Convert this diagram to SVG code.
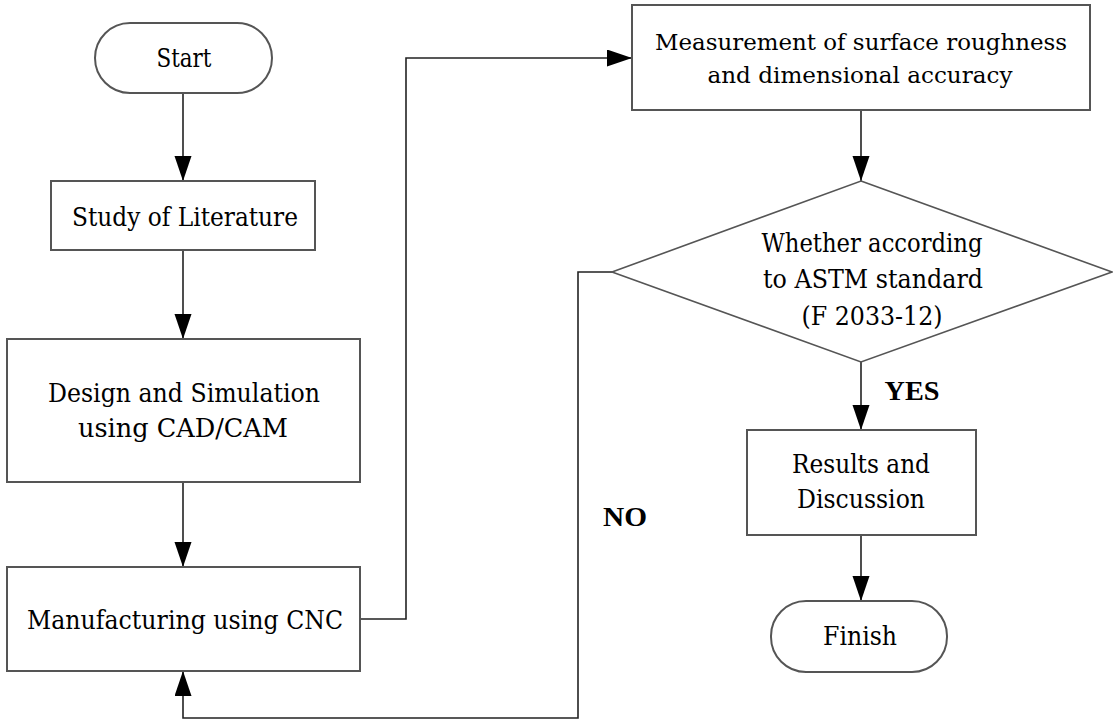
<svg xmlns="http://www.w3.org/2000/svg" width="1113" height="722" viewBox="0 0 1113 722">
<style>
.shape{fill:#fff;stroke:#555;stroke-width:2}
.conn{fill:none;stroke:#222;stroke-width:1.6}
.t{font-family:"DejaVu Serif","Liberation Serif",serif;font-size:26px;fill:#000;text-anchor:middle}
.s{font-size:23px}
.b{font-family:"Liberation Serif","DejaVu Serif",serif;font-weight:bold;font-size:27px}
</style>
<defs>
<marker id="arr" markerWidth="26" markerHeight="18" refX="25" refY="8.5" orient="auto" markerUnits="userSpaceOnUse">
<path d="M0,0 L25,8.5 L0,17 Z" fill="#000"/>
</marker>
</defs>
<rect width="1113" height="722" fill="#fff"/>
<g id="connectors">
<line class="conn" x1="183" y1="93" x2="183" y2="181" marker-end="url(#arr)"/>
<line class="conn" x1="183" y1="250" x2="183" y2="339" marker-end="url(#arr)"/>
<line class="conn" x1="183" y1="482" x2="183" y2="567" marker-end="url(#arr)"/>
<polyline class="conn" points="360,619 406,619 406,58 632,58" marker-end="url(#arr)"/>
<line class="conn" x1="861" y1="110" x2="861" y2="181" marker-end="url(#arr)"/>
<line class="conn" x1="861" y1="362" x2="861" y2="430" marker-end="url(#arr)"/>
<line class="conn" x1="861" y1="535" x2="861" y2="601" marker-end="url(#arr)"/>
<polyline class="conn" points="612,272 578,272 578,718 183,718 183,671" marker-end="url(#arr)"/>
<text class="t b" x="912" y="400" textLength="55" lengthAdjust="spacingAndGlyphs">YES</text>
<text class="t b" x="625" y="526" textLength="44" lengthAdjust="spacingAndGlyphs">NO</text>
</g>
<g id="start">
<rect class="shape" x="95" y="23" width="177" height="70" rx="35" ry="35"/>
<text class="t" x="184" y="67" textLength="55" lengthAdjust="spacingAndGlyphs">Start</text>
</g>
<g id="study">
<rect class="shape" x="51" y="181" width="264" height="69"/>
<text class="t" x="185" y="226" textLength="226" lengthAdjust="spacingAndGlyphs">Study of Literature</text>
</g>
<g id="design">
<rect class="shape" x="7" y="339" width="353" height="143"/>
<text class="t" x="184" y="402" textLength="272" lengthAdjust="spacingAndGlyphs">Design and Simulation</text>
<text class="t" x="183" y="437" textLength="210" lengthAdjust="spacingAndGlyphs">using CAD/CAM</text>
</g>
<g id="manufacturing">
<rect class="shape" x="7" y="567" width="353" height="104"/>
<text class="t" x="185" y="629" textLength="316" lengthAdjust="spacingAndGlyphs">Manufacturing using CNC</text>
</g>
<g id="measurement">
<rect class="shape" x="632" y="5" width="458" height="105"/>
<text class="t s" x="861" y="50" textLength="412" lengthAdjust="spacingAndGlyphs">Measurement of surface roughness</text>
<text class="t s" x="860" y="83" textLength="305" lengthAdjust="spacingAndGlyphs">and dimensional accuracy</text>
</g>
<g id="decision">
<polygon class="shape" points="861,181 1112,272 861,362 612,272" style="stroke-width:1.6"/>
<text class="t" x="872" y="252" textLength="221" lengthAdjust="spacingAndGlyphs">Whether according</text>
<text class="t" x="873" y="288" textLength="220" lengthAdjust="spacingAndGlyphs">to ASTM standard</text>
<text class="t" x="872" y="325" textLength="141" lengthAdjust="spacingAndGlyphs">(F 2033-12)</text>
</g>
<g id="results">
<rect class="shape" x="747" y="430" width="229" height="105"/>
<text class="t" x="861" y="473" textLength="138" lengthAdjust="spacingAndGlyphs">Results and</text>
<text class="t" x="861" y="508" textLength="128" lengthAdjust="spacingAndGlyphs">Discussion</text>
</g>
<g id="finish">
<rect class="shape" x="771" y="601" width="176" height="71" rx="35" ry="35"/>
<text class="t" x="860" y="645" textLength="74" lengthAdjust="spacingAndGlyphs">Finish</text>
</g>
</svg>
